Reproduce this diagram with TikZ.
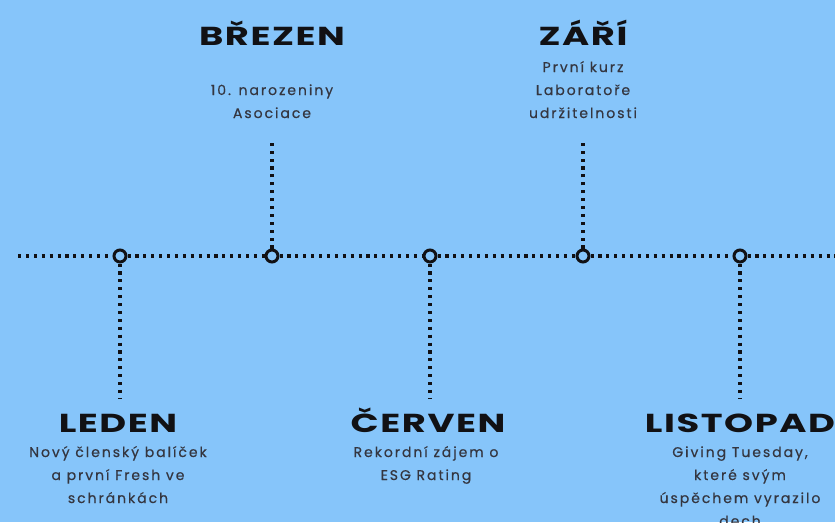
\documentclass[tikz,border=0pt]{standalone}
\usepackage{fontspec}
\setmainfont{Poppins}
\newfontfamily\monthfont{Poppins}[FakeStretch=1.42,LetterSpace=6]
\newfontfamily\notefont{Poppins}[LetterSpace=14,FakeBold=0.5]
\definecolor{sky}{RGB}{134,197,250}
\definecolor{ink}{RGB}{17,17,20}
\definecolor{note}{RGB}{52,54,64}
\begin{document}
\begin{tikzpicture}
[x=1pt,y=-1pt,
  dotline/.style={line width=3.1pt,dash pattern=on 3.1pt off 4.8pt,draw=ink},%
  milestone/.style={circle,draw=ink,line width=3pt,fill=sky,minimum size=12pt,inner sep=0pt},%
  monthlabel/.style={font=\monthfont\bfseries\fontsize{26}{26}\selectfont,text=ink,anchor=base,inner sep=0pt},%
  notelabel/.style={font=\notefont\fontsize{14}{23}\selectfont,text=note,align=center,anchor=base,inner sep=0pt}]
\useasboundingbox[fill=sky] (0,0) rectangle (835,522);
\clip (0,0) rectangle (835,522);
%% milestones on the time line
\foreach \nodename/\x in {leden/120, brezen/272, cerven/430, zari/583, listopad/740}
{
  \node (\nodename) at (\x,256) [milestone] {};
}
\coordinate (west) at (18,256);
\coordinate (east) at (840,256);
%% time line
\draw[dotline] (west) -- (leden) -- (brezen) -- (cerven) -- (zari) -- (listopad) -- (east);
%% stems
\foreach \nodename/\x/\y/\side in {leden/120/398/south, brezen/272/138/north,
  cerven/430/398/south, zari/583/138/north, listopad/740/398/south}
{
  \coordinate (\nodename-end) at (\x,\y);
  \draw[dotline] (\nodename.\side) -- (\nodename-end);
}
%% months
\node (leden-title) at (118,432) [monthlabel] {LEDEN};
\node (brezen-title) at (272,45) [monthlabel] {BŘEZEN};
\node (cerven-title) at (428,432) [monthlabel] {ČERVEN};
\node (zari-title) at (583,45) [monthlabel] {ZÁŘÍ};
\node (listopad-title) at (740,432) [monthlabel] {LISTOPAD};
%% notes (anchored at the baseline of their last line)
\node (leden-note) at (118,503) [notelabel] {Nový členský balíček\\a první Fresh ve\\schránkách};
\node (brezen-note) at (272,118) [notelabel] {10. narozeniny\\Asociace};
\node (cerven-note) at (426,480) [notelabel] {Rekordní zájem o\\ESG Rating};
\node (zari-note) at (583,118) [notelabel] {První kurz\\Laboratoře\\udržitelnosti};
\node (listopad-note) at (740,526) [notelabel] {Giving Tuesday,\\které svým\\úspěchem vyrazilo\\dech};
\end{tikzpicture}
\end{document}
